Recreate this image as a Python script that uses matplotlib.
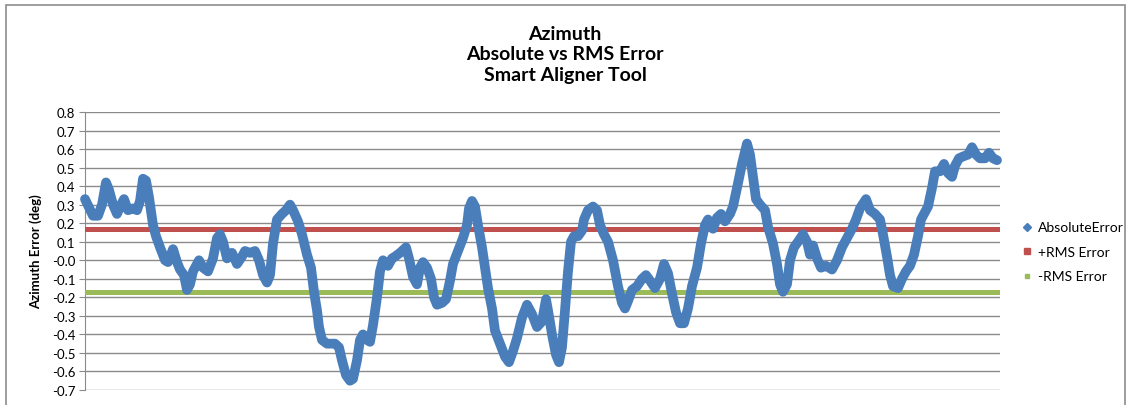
import numpy as np
import matplotlib.pyplot as plt
from matplotlib.lines import Line2D
from matplotlib.patches import Rectangle

# samples along the run and the absolute azimuth error
sample = [0, 8, 13, 17, 21, 24, 28, 32, 37, 39, 43, 48, 52, 55, 58, 61, 64, 68, 71, 75,
          80, 83, 88, 92, 95, 99, 102, 105, 108, 114, 118, 123, 128, 132, 135, 138, 142, 147,
          152, 157, 160, 165, 170, 174, 178, 182, 185, 188, 192, 197, 201, 205, 208, 213, 217,
          222, 226, 229, 232, 234, 237, 242, 250, 254, 257, 261, 265, 268, 272, 275, 278, 282,
          285, 288, 292, 295, 298, 303, 307, 310, 315, 321, 324, 328, 332, 335, 338, 342, 346,
          349, 352, 357, 361, 365, 368, 373, 378, 382, 384, 387, 390, 393, 397, 400, 403, 407,
          410, 415, 420, 424, 428, 432, 437, 442, 447, 452, 457, 461, 463, 467, 471, 474, 477,
          480, 483, 486, 489, 493, 497, 499, 503, 508, 512, 515, 519, 523, 528, 533, 537, 540,
          543, 547, 552, 557, 561, 565, 570, 575, 579, 583, 587, 591, 595, 599, 603, 607, 612,
          616, 620, 623, 628, 632, 636, 640, 645, 648, 652, 657, 662, 665, 668, 671, 675, 680,
          683, 688, 692, 695, 698, 702, 705, 709, 713, 718, 722, 725, 728, 732, 736, 741, 747,
          752, 757, 762, 767, 771, 775, 781, 785, 790, 795, 798, 802, 805, 808, 813, 817, 821,
          825, 829, 833, 836, 840, 843, 847, 850, 855, 859, 863, 867, 870, 874, 878, 883, 887,
          891, 895, 900, 904, 908, 912]
abs_error = [0.33, 0.24, 0.24, 0.30, 0.42, 0.38, 0.30, 0.25, 0.31, 0.33, 0.27, 0.28, 0.27,
             0.32, 0.44, 0.43, 0.34, 0.19, 0.13, 0.07, 0.00, -0.01, 0.06, -0.01, -0.05, -0.08,
             -0.16, -0.13, -0.06, 0.00, -0.04, -0.06, 0.01, 0.12, 0.14, 0.10, 0.01, 0.04, -0.02,
             0.02, 0.05, 0.04, 0.05, 0.00, -0.08, -0.12, -0.08, 0.09, 0.22, 0.25, 0.27, 0.30,
             0.27, 0.21, 0.14, 0.03, -0.04, -0.17, -0.27, -0.36, -0.43, -0.45, -0.45, -0.47,
             -0.54, -0.62, -0.65, -0.64, -0.54, -0.43, -0.40, -0.43, -0.44, -0.35, -0.20, -0.06,
             0.00, -0.03, 0.01, 0.02, 0.04, 0.07, 0.01, -0.09, -0.13, -0.04, -0.01, -0.04, -0.10,
             -0.20, -0.24, -0.23, -0.21, -0.11, -0.02, 0.05, 0.12, 0.19, 0.28, 0.32, 0.29, 0.19,
             0.07, -0.04, -0.15, -0.26, -0.38, -0.45, -0.52, -0.55, -0.49, -0.42, -0.31, -0.24,
             -0.29, -0.36, -0.33, -0.21, -0.27, -0.40, -0.51, -0.55, -0.47, -0.27, -0.06, 0.10,
             0.13, 0.13, 0.16, 0.22, 0.27, 0.29, 0.27, 0.19, 0.14, 0.10, 0.00, -0.14, -0.23,
             -0.26, -0.22, -0.16, -0.14, -0.10, -0.08, -0.11, -0.15, -0.10, -0.02, -0.07, -0.18,
             -0.28, -0.34, -0.34, -0.26, -0.14, -0.04, 0.09, 0.19, 0.22, 0.17, 0.23, 0.25, 0.21,
             0.25, 0.29, 0.39, 0.52, 0.63, 0.57, 0.45, 0.33, 0.30, 0.27, 0.18, 0.09, -0.02,
             -0.13, -0.17, -0.13, 0.00, 0.07, 0.10, 0.14, 0.10, 0.03, 0.08, 0.01, -0.04, -0.03,
             -0.05, 0.00, 0.07, 0.12, 0.17, 0.22, 0.28, 0.33, 0.27, 0.25, 0.22, 0.14, 0.02,
             -0.08, -0.14, -0.15, -0.10, -0.06, -0.03, 0.03, 0.13, 0.22, 0.26, 0.29, 0.39, 0.48,
             0.48, 0.52, 0.47, 0.45, 0.51, 0.55, 0.56, 0.57, 0.61, 0.57, 0.55, 0.55, 0.58, 0.55,
             0.54]
rms_error = 0.17
yticks = np.round(np.arange(-0.7, 0.81, 0.1), 1)
title = "Azimuth\nAbsolute vs RMS Error\nSmart Aligner Tool"

blue = '#4A7EBB'
red = '#C0504D'
green = '#9BBB59'

plt.rcParams['font.family'] = ['Lato', 'DejaVu Sans']

fig = plt.figure(figsize=(11.29, 4.06), dpi=100)
fig.patches.append(Rectangle((6 / 1129, -0.1), 1119 / 1129, 1.1 - 6 / 406,
                             transform=fig.transFigure, fill=False,
                             edgecolor='#8c8c8c', lw=1.2))

ax = fig.add_axes([85 / 1129, 1 - 391 / 406, 915 / 1129, 278 / 406])
ax.set_xlim(0, 915)
ax.set_ylim(-0.7, 0.8)
ax.set_yticks(yticks)
ax.set_yticklabels(['%.1f' % t for t in yticks], fontsize=9.5)
ax.set_xticks([])
ax.grid(axis='y', color='#8a8a8a', lw=1.0)
ax.set_axisbelow(True)
for s in ['top', 'right', 'bottom']:
    ax.spines[s].set_visible(False)
ax.spines['left'].set_color('#8a8a8a')
ax.tick_params(axis='y', length=4, color='#8a8a8a', pad=3)

ax.axhline(rms_error, color=red, lw=3.6, zorder=3)
ax.axhline(-rms_error, color=green, lw=3.6, zorder=3)
ax.plot(sample, abs_error, color=blue, lw=7, solid_joinstyle='round',
        solid_capstyle='round', zorder=4, clip_on=False)

ax.set_ylabel('Azimuth Error (deg)', fontsize=9.5, fontweight='bold', labelpad=7)

fig.text(565 / 1129, 1 - 55 / 406, title, ha='center', va='center',
         fontsize=14, fontweight='bold', linespacing=1.25)

handles = [Line2D([], [], ls='none', marker='D', ms=4, color=blue),
           Line2D([], [], ls='none', marker='s', ms=4, color=red),
           Line2D([], [], ls='none', marker='s', ms=3, color=green)]
fig.legend(handles, ['AbsoluteError', '+RMS Error', '-RMS Error'],
           loc='center left', bbox_to_anchor=(1009 / 1129, 1 - 253 / 406),
           frameon=False, fontsize=10, handlelength=0.8, handletextpad=0.4,
           labelspacing=0.9)

plt.savefig('out.png', dpi=100)
